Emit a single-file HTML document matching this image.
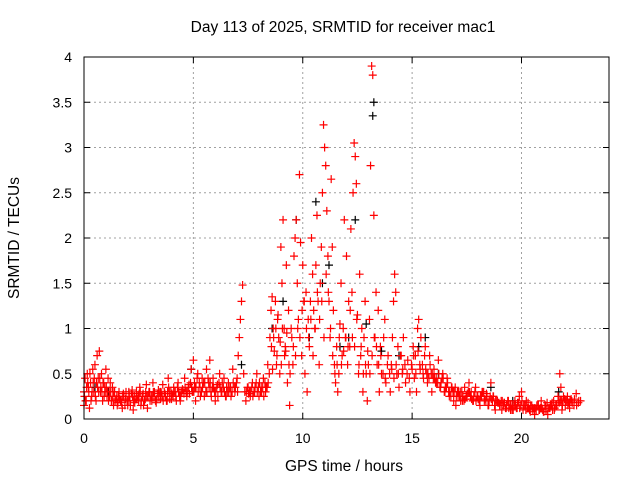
<!DOCTYPE html>
<html><head><meta charset="utf-8"><style>
body{margin:0;background:#fff}
svg{display:block;font-family:"Liberation Sans",sans-serif}
</style></head><body>
<svg id="chart" width="640" height="480">
<rect width="640" height="480" fill="#fff"/>
<text x="343" y="32" font-size="15.5" text-anchor="middle">Day 113 of 2025, SRMTID for receiver mac1</text>
<text x="344" y="471" font-size="15.5" text-anchor="middle">GPS time / hours</text>
<text transform="translate(19,238) rotate(-90)" font-size="15.5" text-anchor="middle">SRMTID / TECUs</text>
<g id="grid"></g>
<g id="ticks"></g>
<g id="black"></g>
<g id="red"></g>
<rect x="84" y="57" width="525" height="362" fill="none" stroke="#000" stroke-width="1"/>
</svg>
<script>
const xTicks=[0,5,10,15,20];
const yTicks=[0,0.5,1,1.5,2,2.5,3,3.5,4];
const yTickLabels=["0","0.5","1","1.5","2","2.5","3","3.5","4"];
const redT=[0,0,0.05,0.1,0.15,0.2,0.25,0.3,0.35,0.4,0.45,0.5,0.55,0.6,0.65,0.7,0.75,0.8,0.85,0.9,0.95,1.0,1.05,1.1,1.15,1.2,1.25,1.3,1.35,1.4,1.5,1.55,1.6,1.7,1.75,1.8,1.9,2.0,2.05,2.1,2.2,2.25,2.3,2.4,2.5,2.55,2.6,2.7,2.8,2.85,2.9,3.0,3.1,3.15,3.2,3.3,3.4,3.5,3.6,3.7,3.8,3.85,3.9,4.0,4.1,4.2,4.3,4.4,4.5,4.6,4.7,4.8,4.9,4.95,5.0,5.05,5.1,5.2,5.3,5.4,5.5,5.6,5.7,5.75,5.8,5.9,6.0,6.1,6.2,6.3,6.4,6.5,6.6,6.7,6.8,6.9,7.0,7.05,7.1,7.15,7.2,7.25,7.3,7.35,7.4,7.5,7.6,7.7,7.8,7.9,8.0,8.1,8.2,8.3,8.4,8.5,8.55,8.6,8.65,8.7,8.75,8.8,8.85,8.9,8.95,9.0,9.05,9.1,9.15,9.2,9.25,9.3,9.35,9.4,9.5,9.55,9.6,9.65,9.7,9.75,9.8,9.85,9.9,9.95,10.0,10.05,10.1,10.15,10.2,10.25,10.3,10.35,10.4,10.45,10.5,10.55,10.6,10.65,10.7,10.75,10.8,10.85,10.9,10.95,11.0,11.05,11.1,11.15,11.2,11.25,11.3,11.35,11.4,11.45,11.5,11.55,11.6,11.65,11.7,11.75,11.8,11.85,11.9,11.95,12.0,12.05,12.1,12.15,12.2,12.25,12.3,12.35,12.4,12.45,12.5,12.55,12.6,12.65,12.7,12.75,12.8,12.85,12.9,12.95,13.0,13.05,13.1,13.15,13.2,13.25,13.3,13.35,13.4,13.45,13.5,13.55,13.6,13.7,13.75,13.8,13.9,14.0,14.05,14.1,14.15,14.2,14.25,14.3,14.35,14.4,14.5,14.55,14.6,14.7,14.8,14.9,15.0,15.05,15.1,15.15,15.2,15.25,15.3,15.35,15.4,15.5,15.6,15.7,15.8,15.9,16.0,16.1,16.2,16.3,16.4,16.5,16.6,16.7,16.8,16.9,17.0,17.1,17.2,17.3,17.4,17.5,17.6,17.7,17.8,17.9,18.0,18.1,18.2,18.3,18.4,18.5,18.6,18.7,18.8,18.9,19.0,19.1,19.2,19.3,19.4,19.5,19.6,19.7,19.8,19.9,20.0,20.1,20.2,20.3,20.4,20.5,20.6,20.7,20.8,20.9,21.0,21.1,21.2,21.3,21.4,21.5,21.6,21.7,21.75,21.8,21.85,21.9,22.0,22.1,22.2,22.3,22.4,22.5,22.6,22.7];
const redV=[0.15,0.3,0.45,0.2,0.5,0.35,0.12,0.4,0.25,0.55,0.3,0.6,0.2,0.7,0.45,0.75,0.3,0.5,0.2,0.4,0.35,0.55,0.25,0.45,0.3,0.4,0.2,0.35,0.15,0.3,0.25,0.18,0.3,0.2,0.12,0.28,0.22,0.15,0.3,0.2,0.32,0.1,0.25,0.3,0.2,0.35,0.15,0.28,0.22,0.38,0.12,0.3,0.2,0.4,0.25,0.18,0.32,0.22,0.38,0.28,0.2,0.45,0.3,0.22,0.35,0.25,0.4,0.2,0.33,0.45,0.25,0.38,0.55,0.3,0.65,0.4,0.2,0.5,0.35,0.45,0.25,0.55,0.4,0.65,0.3,0.45,0.2,0.38,0.5,0.3,0.45,0.25,0.4,0.35,0.55,0.3,0.45,0.7,0.9,1.1,1.3,1.48,0.5,0.3,0.2,0.35,0.25,0.4,0.3,0.5,0.25,0.35,0.45,0.3,0.6,0.9,1.2,1.35,1.0,0.75,1.3,0.6,1.1,0.9,0.5,1.9,1.5,2.2,1.0,0.8,1.7,0.4,1.2,0.15,0.9,0.6,1.8,2.0,2.2,1.5,1.1,2.7,1.95,0.7,1.7,1.3,0.5,1.4,0.3,1.1,0.8,1.3,2.0,1.6,1.2,1.0,1.7,2.25,1.3,0.6,1.5,1.9,2.5,3.25,3.0,2.8,2.3,1.8,1.3,0.9,2.65,1.9,1.2,0.6,0.4,0.8,0.3,0.5,1.05,1.5,0.7,1.0,2.2,0.9,1.8,0.6,1.3,0.8,2.1,1.4,2.5,3.05,2.9,2.6,1.15,0.5,1.6,0.7,1.0,0.3,0.9,1.3,0.5,0.2,0.6,1.1,2.8,3.9,3.8,2.25,0.9,1.4,0.6,1.2,0.3,0.8,0.5,0.9,1.1,0.4,0.7,0.3,0.6,0.9,1.3,1.6,1.4,0.5,0.8,0.35,0.7,0.5,0.9,0.4,0.65,0.3,0.55,0.8,0.45,0.7,0.3,1.0,1.1,0.6,0.9,0.5,0.8,0.4,0.7,0.3,0.55,0.45,0.65,0.35,0.5,0.3,0.45,0.25,0.35,0.2,0.15,0.25,0.3,0.2,0.35,0.25,0.4,0.3,0.2,0.35,0.25,0.15,0.3,0.2,0.28,0.15,0.4,0.25,0.1,0.2,0.15,0.1,0.18,0.12,0.2,0.1,0.15,0.2,0.12,0.25,0.3,0.15,0.1,0.18,0.08,0.12,0.05,0.15,0.1,0.2,0.08,0.15,0.05,0.12,0.18,0.1,0.15,0.2,0.5,0.35,0.1,0.2,0.15,0.25,0.12,0.2,0.15,0.28,0.18,0.2];
const bandT=[0.02,0.12,0.22,0.32,0.42,0.52,0.62,0.72,0.82,0.92,1.02,1.12,1.22,1.32,1.42,1.52,1.62,1.72,1.82,1.92,2.02,2.12,2.22,2.32,2.42,2.52,2.62,2.72,2.82,2.92,3.02,3.12,3.22,3.32,3.42,3.52,3.62,3.72,3.82,3.92,4.02,4.12,4.22,4.32,4.42,4.52,4.62,4.72,4.82,4.92,5.02,5.12,5.22,5.32,5.42,5.52,5.62,5.72,5.82,5.92,6.02,6.12,6.22,6.32,6.42,6.52,6.62,6.72,6.82,6.92,7.02,7.42,7.52,7.62,7.72,7.82,7.92,8.02,8.12,8.22,8.32,8.42,8.62,8.82,9.02,9.22,9.42,15.52,15.62,15.72,15.82,15.92,16.02,16.12,16.22,16.32,16.42,16.52,16.62,16.72,16.82,16.92,17.02,17.12,17.22,17.32,17.42,17.52,17.62,17.72,17.82,17.92,18.02,18.12,18.22,18.32,18.42,18.52,18.62,18.72,18.82,18.92,19.02,19.12,19.22,19.32,19.42,19.52,19.62,19.72,19.82,19.92,20.02,20.12,20.22,20.32,20.42,20.52,20.62,20.72,20.82,20.92,21.02,21.12,21.22,21.32,21.42,21.52,21.62,21.72,21.82,21.92,22.02,22.12,22.22,22.32,22.42,22.52,22.62];
const bandV=[0.25,0.35,0.3,0.2,0.4,0.25,0.35,0.45,0.3,0.25,0.35,0.2,0.3,0.25,0.2,0.15,0.22,0.18,0.25,0.3,0.2,0.15,0.25,0.18,0.22,0.28,0.2,0.15,0.3,0.25,0.2,0.25,0.3,0.22,0.25,0.3,0.2,0.25,0.3,0.22,0.28,0.3,0.2,0.3,0.25,0.32,0.35,0.3,0.28,0.35,0.3,0.35,0.3,0.25,0.35,0.4,0.3,0.35,0.25,0.35,0.3,0.25,0.35,0.4,0.3,0.35,0.3,0.25,0.4,0.35,0.3,0.3,0.28,0.3,0.25,0.35,0.3,0.4,0.3,0.25,0.35,0.4,0.55,0.7,0.6,0.75,0.5,0.45,0.55,0.5,0.6,0.5,0.45,0.4,0.5,0.4,0.45,0.35,0.4,0.3,0.35,0.3,0.25,0.3,0.2,0.25,0.22,0.28,0.3,0.22,0.25,0.2,0.22,0.25,0.3,0.22,0.25,0.2,0.22,0.25,0.2,0.18,0.15,0.2,0.18,0.15,0.12,0.15,0.1,0.15,0.18,0.12,0.2,0.15,0.2,0.12,0.15,0.1,0.12,0.15,0.1,0.12,0.08,0.1,0.12,0.15,0.1,0.12,0.15,0.18,0.2,0.25,0.2,0.15,0.2,0.18,0.22,0.15,0.2,0.25,0.18];
const band2T=[0.07,0.17,0.27,0.37,0.47,0.57,0.67,0.77,0.87,0.97,1.07,1.17,1.27,1.37,1.47,1.57,1.67,1.77,1.87,1.97,2.07,2.17,2.27,2.37,2.47,2.57,2.67,2.77,2.87,2.97,3.07,3.17,3.27,3.37,3.47,3.57,3.67,3.77,3.87,3.97,4.07,4.17,4.27,4.37,4.47,4.57,4.67,4.77,4.87,4.97,5.07,5.17,5.27,5.37,5.47,5.57,5.67,5.77,5.87,5.97,6.07,6.17,6.27,6.37,6.47,6.57,6.67,6.77,6.87,6.97,7.47,7.57,7.67,7.77,7.87,7.97,8.07,8.17,8.27,8.37,8.47,8.57,8.67,8.77,8.87,8.97,9.07,9.17,9.27,9.37,9.47,9.57,9.67,9.77,9.87,9.97,10.07,10.17,10.27,10.37,10.47,10.57,10.67,10.77,10.87,10.97,11.07,11.17,11.27,11.37,11.47,11.57,11.67,11.77,11.87,11.97,12.07,12.17,12.27,12.37,12.47,12.57,12.67,12.77,12.87,12.97,13.07,13.17,13.27,13.37,13.47,13.57,13.67,13.77,13.87,13.97,14.07,14.17,14.27,14.37,14.47,14.57,14.67,14.77,14.87,14.97,15.07,15.17,15.27,15.37,15.47,15.57,15.67,15.77,15.87,15.97,16.07,16.17,16.27,16.37,16.47,16.57,16.67,16.77,16.87,16.97,17.07,17.17,17.27,17.37,17.47,17.57,17.67,17.77,17.87,17.97,18.07,18.17,18.27,18.37,18.47,18.57,18.67,18.77,18.87,18.97,19.07,19.17,19.27,19.37,19.47,19.57,19.67,19.77,19.87,19.97,20.07,20.17,20.27,20.37,20.47,20.57,20.67,20.77,20.87,20.97,21.07,21.17,21.27,21.37,21.47,21.57,21.67,21.77,21.87,21.97,22.07,22.17,22.27,22.37,22.47,22.57,22.67];
const band2V=[0.2,0.4,0.5,0.3,0.45,0.4,0.3,0.35,0.4,0.3,0.3,0.25,0.2,0.3,0.22,0.25,0.2,0.25,0.15,0.2,0.25,0.28,0.2,0.22,0.25,0.3,0.25,0.2,0.25,0.3,0.25,0.3,0.2,0.28,0.3,0.25,0.3,0.2,0.35,0.3,0.25,0.3,0.35,0.25,0.3,0.28,0.3,0.35,0.4,0.3,0.35,0.45,0.4,0.3,0.4,0.3,0.45,0.4,0.35,0.3,0.35,0.4,0.3,0.35,0.25,0.3,0.35,0.3,0.35,0.4,0.35,0.3,0.35,0.3,0.4,0.35,0.3,0.35,0.4,0.35,0.5,0.8,0.9,1.0,1.15,0.85,1.0,0.7,0.95,0.6,1.0,0.8,0.7,1.0,0.9,1.2,1.3,1.0,0.9,1.1,0.7,1.0,1.4,1.1,1.3,0.9,1.6,1.4,1.0,0.7,0.5,0.6,0.9,0.6,0.75,0.9,0.8,1.2,0.9,0.8,1.1,0.6,0.8,0.5,0.6,0.75,0.5,0.7,0.9,0.8,0.6,0.7,0.5,0.45,0.6,0.5,0.55,0.45,0.6,0.5,0.7,0.55,0.6,0.5,0.45,0.6,0.7,0.5,0.75,0.55,0.6,0.7,0.5,0.45,0.5,0.45,0.4,0.4,0.35,0.45,0.3,0.35,0.3,0.25,0.3,0.35,0.3,0.25,0.3,0.2,0.25,0.3,0.25,0.2,0.3,0.25,0.2,0.25,0.3,0.2,0.15,0.25,0.2,0.15,0.2,0.18,0.2,0.15,0.12,0.2,0.15,0.1,0.15,0.12,0.18,0.15,0.1,0.15,0.12,0.1,0.15,0.12,0.1,0.15,0.12,0.1,0.15,0.18,0.12,0.15,0.2,0.15,0.25,0.2,0.15,0.22,0.2,0.18,0.22];
const blackT=[0.5,1.1,4.9,7.2,8.6,9.1,9.7,10.3,10.6,10.9,11.2,11.7,12.1,12.4,12.9,13.2,13.25,13.6,14.4,15.3,15.6,16.2,18.6,19.6,21.7];
const blackV=[0.35,0.3,0.55,0.6,1.0,1.3,2.2,0.9,2.4,1.5,1.7,0.8,0.9,2.2,1.05,3.35,3.5,0.75,0.7,0.8,0.9,0.5,0.35,0.2,0.3];

const X0=84,X1=609,Y0=419,Y1=57;
const xs=v=>X0+(v-0)/(24-0)*(X1-X0);
const ys=v=>Y0-(v-0)/(4-0)*(Y0-Y1);
const NS='http://www.w3.org/2000/svg';
function mk(tag,attrs,parent){const e=document.createElementNS(NS,tag);for(const k in attrs)e.setAttribute(k,attrs[k]);parent.appendChild(e);return e;}
const grid=document.getElementById('grid'),ticks=document.getElementById('ticks');
xTicks.forEach(t=>{
  const x=xs(t);
  if(t>0){const g=mk('line',{x1:x,x2:x,y1:Y1,y2:Y0,stroke:'#a0a0a0','stroke-dasharray':'2,3'},grid);
  
  }
  const a=mk('line',{x1:x,x2:x,y1:Y0,y2:Y0-6,stroke:'#000'},ticks);
  
  
  const b=mk('line',{x1:x,x2:x,y1:Y1,y2:Y1+6,stroke:'#000'},ticks);
  
  
  const l=mk('text',{x:x,y:443,'font-size':14,'text-anchor':'middle'},ticks);
  l.textContent=String(t);
  
  
});
yTicks.forEach((t,i)=>{
  const y=ys(t);
  if(t>0&&t<4){const g=mk('line',{x1:X0,x2:X1,y1:y,y2:y,stroke:'#a0a0a0','stroke-dasharray':'2,3'},grid);
  
  }
  const a=mk('line',{x1:X0,x2:X0+6,y1:y,y2:y,stroke:'#000'},ticks);
  
  
  const b=mk('line',{x1:X1,x2:X1-6,y1:y,y2:y,stroke:'#000'},ticks);
  
  
  const l=mk('text',{x:72,y:y+5,'font-size':14,'text-anchor':'end'},ticks);
  l.textContent=yTickLabels[i];
  
  
});
function cross(g,t,v,col){
  const x=xs(t),y=ys(v);
  const p=mk('path',{d:`M${x-4},${y}H${x+4}M${x},${y-4}V${y+4}`,stroke:col,'stroke-width':1.2,fill:'none'},g);
  
  
}
const bg=document.getElementById('black'),rg=document.getElementById('red');
blackT.forEach((t,i)=>cross(bg,t,blackV[i],'#000'));
bandT.forEach((t,i)=>cross(rg,t,bandV[i],'#f00'));
band2T.forEach((t,i)=>cross(rg,t,band2V[i],'#f00'));
redT.forEach((t,i)=>cross(rg,t,redV[i],'#f00'));
</script>
</body></html>
